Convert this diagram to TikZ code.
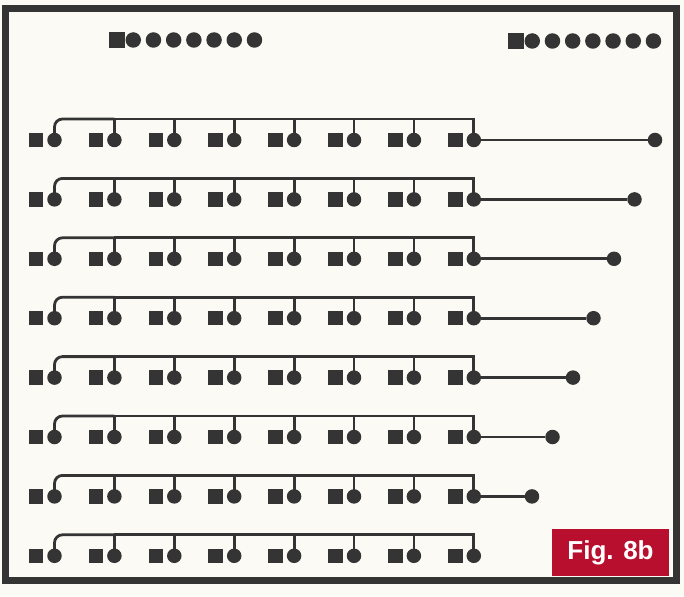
\documentclass[tikz,border=0pt]{standalone}
\usepackage{fontspec}
\newfontfamily\figfont{Liberation Sans}
\usetikzlibrary{positioning}
\definecolor{ink}{HTML}{343434}
\definecolor{paper}{HTML}{FBFAF4}
\definecolor{figred}{HTML}{B80F2E}

\begin{document}
\begin{tikzpicture}[
    x=1pt, y=-1pt,
    sq/.style={fill=ink, minimum size=14.5pt, inner sep=0pt, outer sep=0pt},
    pin/.style={circle, fill=ink, minimum size=14.5pt, inner sep=0pt, outer sep=0pt},
    bead/.style={circle, fill=ink, minimum size=15.5pt, inner sep=0pt, outer sep=0pt},
    wire/.style={draw=ink, line width=2.8pt},
    figtag/.style={fill=figred, text=white, minimum width=117pt, minimum height=47pt,
        font={\figfont\bfseries\fontsize{26}{26}\selectfont}}
]
\fill[paper] (0,0) rectangle (684,596);
\useasboundingbox (0,0) rectangle (684,596);
\draw[ink, line width=7pt] (5.5,8.5) rectangle (676,580);

\node[sq, minimum size=16pt] (hl-0) at (117,40) {};
\node[bead, right=0.5pt of hl-0] (hl-1) {};
\foreach \k [evaluate=\k as \p using int(\k-1)] in {2,...,7}
    \node[bead, right=4.7pt of hl-\p] (hl-\k) {};

\node[sq, minimum size=16pt] (hr-0) at (516,41) {};
\node[bead, right=0.5pt of hr-0] (hr-1) {};
\foreach \k [evaluate=\k as \p using int(\k-1)] in {2,...,7}
    \node[bead, right=4.7pt of hr-\p] (hr-\k) {};

\foreach \r in {1,...,8} {
    \foreach \i in {1,...,8} {
        \node[sq] (sq-\r-\i) at ({36+59.9*(\i-1)}, {140+59.4*(\r-1)}) {};
        \node[pin, right=4pt of sq-\r-\i] (ci-\r-\i) {};
    }
    \coordinate (bus-\r) at ([yshift=21pt]ci-\r-8.center);
    \draw[wire] (ci-\r-8.center) -- (bus-\r) -- (ci-\r-2.center |- bus-\r);
    \draw[wire, rounded corners=8pt] (ci-\r-2.center |- bus-\r) -| (ci-\r-1.center);
    \foreach \i in {2,...,7}
        \draw[wire] (ci-\r-\i.center) -- (ci-\r-\i.center |- bus-\r);
}

\foreach \r in {1,...,7} {
    \node[pin] (tip-\r) at ({655-20.5*(\r-1)}, {140+59.4*(\r-1)}) {};
    \draw[wire] (ci-\r-8) -- (tip-\r);
}

\node[figtag] (tag) at (610.5,552.5) {Fig. 8b};
\end{tikzpicture}
\end{document}
